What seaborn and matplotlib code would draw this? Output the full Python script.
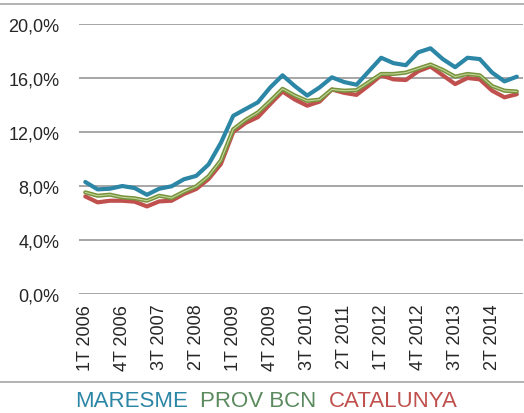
import pandas as pd
import matplotlib.pyplot as plt
import seaborn as sns
from matplotlib.ticker import FuncFormatter
from matplotlib.lines import Line2D

# Quarterly unemployment rate (%), 1T 2006 - 4T 2014
years = list(range(2006, 2015))
quarters = [f"{q}T {y}" for y in years for q in range(1, 5)]

maresme = [8.3, 7.75, 7.8, 8.0, 7.85, 7.35, 7.8, 7.98, 8.5, 8.75, 9.6, 11.2,
           13.2, 13.7, 14.2, 15.3, 16.2, 15.4, 14.7, 15.3, 16.05, 15.7, 15.5, 16.5,
           17.5, 17.1, 16.95, 17.9, 18.2, 17.4, 16.8, 17.5, 17.4, 16.4, 15.75, 16.1]
prov_bcn = [7.53, 7.28, 7.36, 7.16, 7.09, 6.91, 7.28, 7.11, 7.58, 7.98, 8.72, 9.9,
            12.2, 12.9, 13.45, 14.3, 15.2, 14.7, 14.3, 14.4, 15.15, 15.06, 15.1, 15.7,
            16.3, 16.3, 16.4, 16.7, 17.0, 16.6, 16.1, 16.3, 16.2, 15.4, 15.06, 15.0]
catalunya = [7.23, 6.79, 6.91, 6.91, 6.84, 6.49, 6.86, 6.91, 7.41, 7.78, 8.52, 9.63,
             12.0, 12.67, 13.1, 14.07, 15.0, 14.4, 13.95, 14.25, 15.15, 14.9, 14.75, 15.45,
             16.2, 15.9, 15.85, 16.5, 16.85, 16.2, 15.55, 16.0, 15.9, 15.06, 14.57, 14.8]

series = ['MARESME', 'PROV BCN', 'CATALUNYA']
colors = {'MARESME': '#2C86A6', 'PROV BCN': '#77933C', 'CATALUNYA': '#C0504D'}
text_colors = {'MARESME': '#2C86A6', 'PROV BCN': '#5A8A5E', 'CATALUNYA': '#C0504D'}

df = pd.DataFrame({'idx': list(range(len(quarters))) * 3,
                   'rate': maresme + prov_bcn + catalunya,
                   'zona': [s for s in series for _ in quarters]})

sns.set_style('white')
plt.rcParams['font.family'] = ['Liberation Sans', 'DejaVu Sans']

fig = plt.figure(figsize=(5.24, 4.14), dpi=100)
ax = fig.add_axes([0.151, 0.2874, 0.847, 0.6522])

# draw order: red at bottom, green, blue on top
sns.lineplot(data=df, x='idx', y='rate', hue='zona', palette=colors,
             hue_order=['CATALUNYA', 'PROV BCN', 'MARESME'], linewidth=3,
             legend=False, ax=ax)
# light stripe inside the green line
sns.lineplot(x=list(range(len(quarters))), y=prov_bcn, color='#C3D69B',
             linewidth=0.8, ax=ax, zorder=2.5)
# keep blue above the stripe
ax.lines[2].set_zorder(3)

ax.set_ylim(0, 20)
ax.set_xlim(-0.5, len(quarters) - 0.5)
ax.set_yticks([0, 4, 8, 12, 16, 20])
ax.yaxis.set_major_formatter(FuncFormatter(lambda v, p: f"{v:.1f}%".replace('.', ',')))
ax.set_xticks(range(0, len(quarters), 3))
ax.set_xticklabels(quarters[::3], rotation=90)
ax.tick_params(axis='y', length=0, pad=14, labelsize=13)
ax.tick_params(axis='x', length=0, pad=7, labelsize=13)
ax.grid(axis='y', color='#A6A6A6', linewidth=1.4)
ax.set_axisbelow(True)
for sp in ax.spines.values():
    sp.set_visible(False)
ax.set_xlabel('')
ax.set_ylabel('')

# frame lines of the original chart box
fig.add_artist(Line2D([0, 1], [0.988, 0.988], color='#A6A6A6', linewidth=1.2))
fig.add_artist(Line2D([0, 1], [0.075, 0.075], color='#A6A6A6', linewidth=1.2))

handles = [Line2D([], [], color=colors[s]) for s in series]
leg = fig.legend(handles, series, loc='center', bbox_to_anchor=(0.508, 0.03),
                 ncol=3, frameon=False, handlelength=0, handletextpad=0,
                 columnspacing=0.55, borderaxespad=0,
                 prop={'family': ['Liberation Sans'], 'size': 16})
for t, s in zip(leg.get_texts(), series):
    t.set_color(text_colors[s])
for h in leg.legend_handles:
    h.set_visible(False)

fig.savefig('out.png', dpi=100)
